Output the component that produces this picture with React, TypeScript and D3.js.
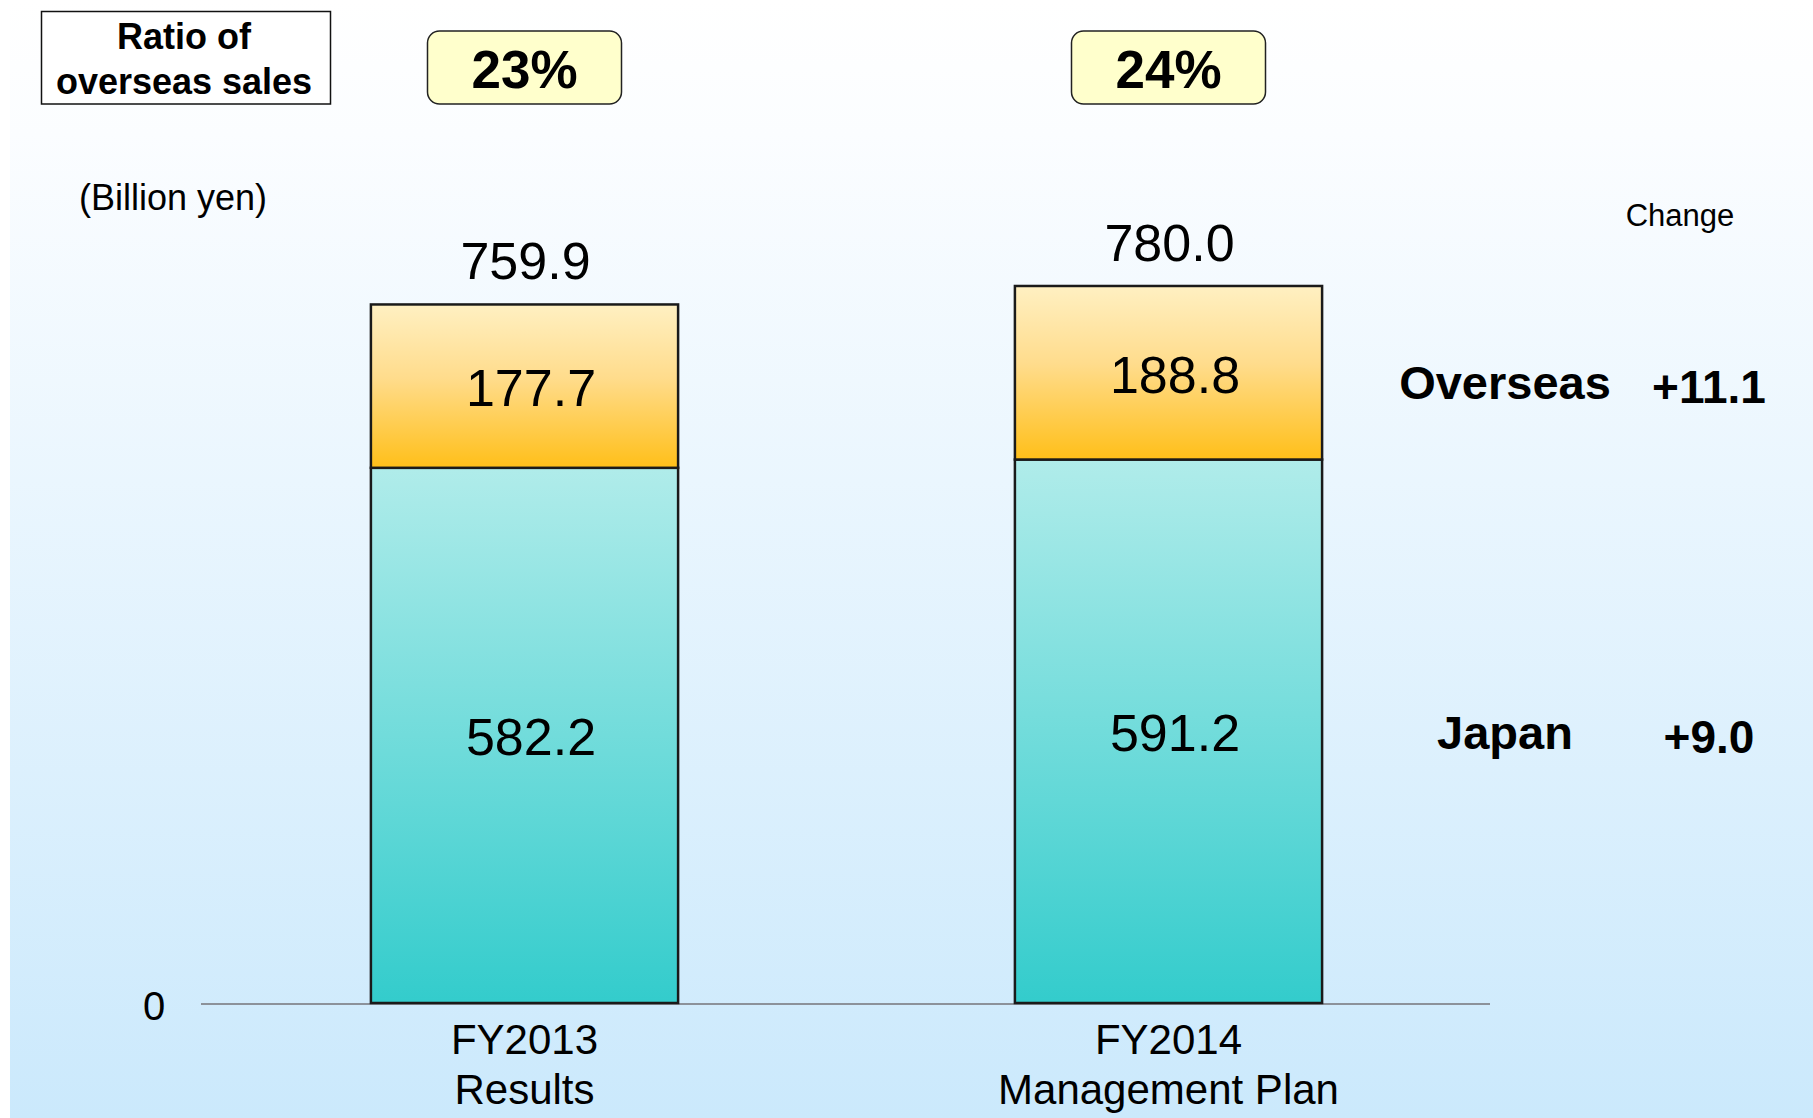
import React from "react";
import * as d3 from "d3";

const categories = ["FY2013", "FY2014"];
const categorySubLabels = ["Results", "Management Plan"];
const japanValues = [582.2, 591.2];
const overseasValues = [177.7, 188.8];
const totalValues = [759.9, 780.0];
const ratioLabels = ["23%", "24%"];
const seriesKeys = ["japan", "overseas"];
const seriesNames = ["Japan", "Overseas"];
const changeValues = ["+9.0", "+11.1"];
const yTicks = [0];

const W = 1813;
const H = 1118;
const FONT = "'Liberation Sans', Arial, Helvetica, sans-serif";

export default function App() {
  const x = d3
    .scaleBand<string>()
    .domain(categories)
    .range([202.5, 1490.5])
    .paddingInner(0.523)
    .paddingOuter(0.2615);
  const y = d3.scaleLinear().domain([0, 800]).range([1003, 267.6]);

  const rows = categories.map((c, i) => ({
    cat: c,
    japan: japanValues[i],
    overseas: overseasValues[i],
  }));
  const stacked = d3.stack<any>().keys(seriesKeys)(rows);
  const bw = x.bandwidth();
  const fmt = d3.format(".1f");

  const lastIdx = categories.length - 1;

  return (
    <svg
      width={W}
      height={H}
      style={{ position: "absolute", left: 0, top: 0, display: "block" }}
      fontFamily={FONT}
    >
      <defs>
        <linearGradient id="bg" x1="0" y1="0" x2="0" y2="1">
          <stop offset="0%" stopColor="#ffffff" />
          <stop offset="12%" stopColor="#fbfdff" />
          <stop offset="100%" stopColor="#cbe9fc" />
        </linearGradient>
        <linearGradient id="g-overseas" x1="0" y1="0" x2="0" y2="1">
          <stop offset="0%" stopColor="#fff0c2" />
          <stop offset="45%" stopColor="#ffdc8c" />
          <stop offset="100%" stopColor="#ffbf19" />
        </linearGradient>
        <linearGradient id="g-japan" x1="0" y1="0" x2="0" y2="1">
          <stop offset="0%" stopColor="#b0ecea" />
          <stop offset="100%" stopColor="#33cccc" />
        </linearGradient>
      </defs>
      <rect x={0} y={0} width={W} height={H} fill="#ffffff" />
      <rect x={10} y={0} width={W - 10} height={H} fill="url(#bg)" />

      {/* Ratio of overseas sales box */}
      <rect x={41.5} y={11.5} width={289} height={92.5} fill="#ffffff" stroke="#111" strokeWidth={1.5} />
      <text x={184} y={49} textAnchor="middle" fontSize={36} fontWeight="bold" fill="#000">
        Ratio of
      </text>
      <text x={184} y={94} textAnchor="middle" fontSize={36} fontWeight="bold" fill="#000">
        overseas sales
      </text>

      {categories.map((c, i) => {
        const cx = (x(c) as number) + bw / 2;
        return (
          <g key={"ratio" + c}>
            <rect
              x={cx - 97}
              y={31}
              width={194}
              height={73}
              rx={12}
              ry={12}
              fill="#ffffcc"
              stroke="#222"
              strokeWidth={1.5}
            />
            <text x={cx} y={87.5} textAnchor="middle" fontSize={53} fontWeight="bold" fill="#000">
              {ratioLabels[i]}
            </text>
          </g>
        );
      })}

      <text x={173} y={210} textAnchor="middle" fontSize={36} fill="#000">
        (Billion yen)
      </text>
      <text x={1680} y={226} textAnchor="middle" fontSize={31} fill="#000">
        Change
      </text>

      {/* axis */}
      <line x1={201} x2={1490} y1={y(0) + 1} y2={y(0) + 1} stroke="#8c929a" strokeWidth={2} />
      {yTicks.map((t) => (
        <text key={"yt" + t} x={154} y={y(t) + 17} textAnchor="middle" fontSize={40} fill="#000">
          {t}
        </text>
      ))}

      {/* bars */}
      {stacked.map((s) => (
        <g key={s.key}>
          {s.map((d, i) => (
            <rect
              key={s.key + i}
              x={x(categories[i]) as number}
              y={y(d[1])}
              width={bw}
              height={y(d[0]) - y(d[1])}
              fill={`url(#g-${s.key})`}
              stroke="#1a1a1a"
              strokeWidth={2.5}
            />
          ))}
        </g>
      ))}

      {/* segment labels */}
      {stacked.map((s) =>
        s.map((d, i) => {
          const cx = (x(categories[i]) as number) + bw / 2 + 6.5;
          const mid = (y(d[0]) + y(d[1])) / 2;
          return (
            <text key={"l" + s.key + i} x={cx} y={mid + 20} textAnchor="middle" fontSize={52} fill="#000">
              {fmt(d[1] - d[0])}
            </text>
          );
        })
      )}

      {/* totals */}
      {totalValues.map((v, i) => (
        <text
          key={"t" + i}
          x={(x(categories[i]) as number) + bw / 2 + 1}
          y={y(v) - 25}
          textAnchor="middle"
          fontSize={52}
          fill="#000"
        >
          {fmt(v)}
        </text>
      ))}

      {/* category labels */}
      {categories.map((c, i) => {
        const cx = (x(c) as number) + bw / 2;
        return (
          <text key={"c" + c} x={cx} textAnchor="middle" fontSize={42} fill="#000">
            <tspan x={cx} y={1054}>{c}</tspan>
            <tspan x={cx} y={1104}>{categorySubLabels[i]}</tspan>
          </text>
        );
      })}

      {/* right side legend with change */}
      {stacked.map((s, si) => {
        const d = s[lastIdx];
        const mid = (y(d[0]) + y(d[1])) / 2;
        const yy = mid + (s.key === "overseas" ? 26 : 18);
        return (
          <g key={"leg" + s.key}>
            <text x={1505} y={yy} textAnchor="middle" fontSize={47} fontWeight="bold" fill="#000">
              {seriesNames[si]}
            </text>
            <text x={1709} y={yy + 4} textAnchor="middle" fontSize={46} fontWeight="bold" fill="#000">
              {changeValues[si]}
            </text>
          </g>
        );
      })}
    </svg>
  );
}
